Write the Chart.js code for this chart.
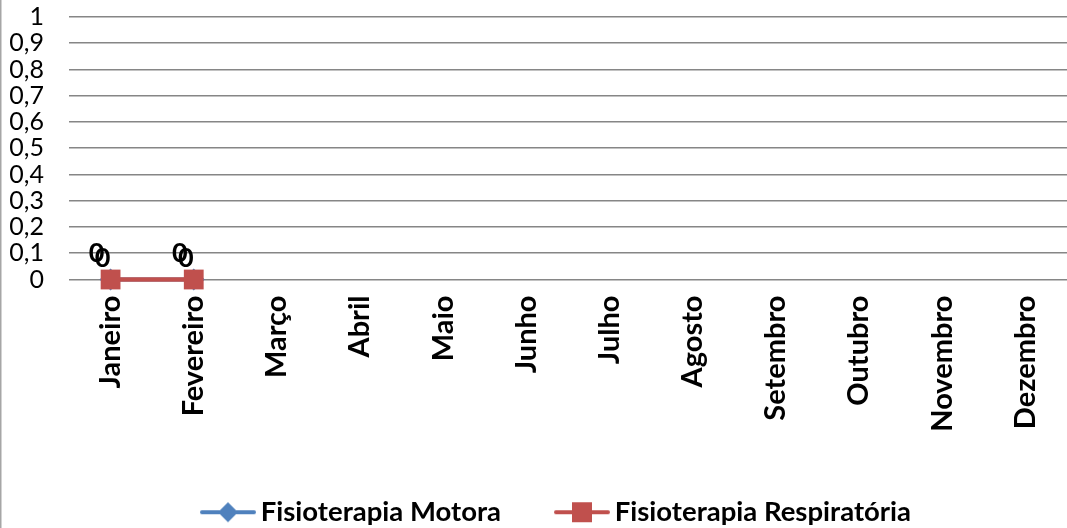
<!DOCTYPE html>
<html>
<head>
<meta charset="utf-8">
<script src="https://cdn.jsdelivr.net/npm/chart.js@4.4.1/dist/chart.umd.min.js"></script>
<style>
html,body{margin:0;padding:0;background:#fff;overflow:hidden;}
#wrap{width:1067px;height:528px;position:relative;overflow:hidden;}
canvas{display:block;}
</style>
</head>
<body>
<div id="wrap"><canvas id="c" width="1067" height="528"></canvas></div>
<script>
const categories = ['Janeiro','Fevereiro','Março','Abril','Maio','Junho','Julho','Agosto','Setembro','Outubro','Novembro','Dezembro'];
const motora = [0, 0, null, null, null, null, null, null, null, null, null, null];
const respiratoria = [0, 0, null, null, null, null, null, null, null, null, null, null];
const yTickLabels = ['0','0,1','0,2','0,3','0,4','0,5','0,6','0,7','0,8','0,9','1'];
const seriesNames = ['Fisioterapia Motora','Fisioterapia Respiratória'];

const BLUE = '#4F81BD', RED = '#C0504D';
const FONT = 'Lato, "Open Sans", sans-serif';

function legendIcon(color, shape){
  const c = document.createElement('canvas');
  c.width = 70; c.height = 24;
  const g = c.getContext('2d');
  g.strokeStyle = color; g.lineWidth = 4; g.lineCap = 'round';
  g.beginPath(); g.moveTo(15,12); g.lineTo(67,12); g.stroke();
  g.fillStyle = color;
  if (shape === 'diamond'){
    g.beginPath(); g.moveTo(41,2); g.lineTo(51,12); g.lineTo(41,22); g.lineTo(31,12); g.closePath(); g.fill();
  } else {
    g.fillRect(31,2,20,20);
  }
  return c;
}
const icons = [legendIcon(BLUE,'diamond'), legendIcon(RED,'square')];

const labelOffsets = [[-14,-26],[-8,-21]];
const dataLabels = {
  id:'dataLabels',
  afterDatasetsDraw(chart){
    const ctx = chart.ctx;
    ctx.save();
    ctx.font = 'bold 27px ' + FONT;
    ctx.fillStyle = '#000';
    ctx.textAlign = 'center'; ctx.textBaseline = 'middle';
    chart.data.datasets.forEach((ds, di) => {
      const meta = chart.getDatasetMeta(di);
      meta.data.forEach((pt, i) => {
        const v = ds.data[i];
        if (v === null || v === undefined) return;
        ctx.fillText(String(v).replace('.',','), pt.x + labelOffsets[di][0], pt.y + labelOffsets[di][1]);
      });
    });
    ctx.restore();
  }
};
const frame = {
  id:'frame',
  afterLayout(chart){
    if (chart.legend){ chart.legend.left -= 14; chart.legend.right -= 14; }
  },
  afterDraw(chart){
    const ctx = chart.ctx;
    ctx.save();
    ctx.fillStyle = '#a6a6a6';
    ctx.fillRect(0,0,1.5,chart.height);
    ctx.restore();
  }
};

new Chart(document.getElementById('c'), {
  type:'line',
  data:{
    labels:categories,
    datasets:[
      {label:seriesNames[0], data:motora, borderColor:BLUE, backgroundColor:BLUE, borderWidth:4, order:1, clip:false,
       pointStyle:'rectRot', pointRadius:11, pointBorderWidth:0, spanGaps:false},
      {label:seriesNames[1], data:respiratoria, borderColor:RED, backgroundColor:RED, borderWidth:4.5, order:0, clip:false,
       pointStyle:'rect', pointRadius:14, pointBorderWidth:0, spanGaps:false}
    ]
  },
  options:{
    responsive:false, animation:false,
    layout:{autoPadding:false, padding:{left:0,right:0,top:17,bottom:-8}},
    plugins:{
      tooltip:{enabled:false},
      legend:{
        position:'bottom', fullSize:false,
        labels:{
          usePointStyle:true, pointStyleWidth:50,
          generateLabels(chart){
            return chart.data.datasets.map((ds,i)=>({text:ds.label, pointStyle:icons[i], datasetIndex:i, fontColor:'#000', lineWidth:0, hidden:false}));
          },
          color:'#000', font:{family:FONT, size:27.5, weight:'bold'}, padding:50
        }
      }
    },
    scales:{
      x:{
        offset:true,
        grid:{display:false, drawTicks:false},
        border:{display:false},
        ticks:{color:'#000', font:{family:FONT, size:29, weight:'bold'}, maxRotation:90, minRotation:90, padding:16, autoSkip:false},
        afterFit(s){ s.height = 169; s.paddingLeft = 0; s.paddingRight = 0; }
      },
      y:{
        min:0, max:1,
        grid:{color:'#868686', lineWidth:1.6, drawTicks:false},
        border:{display:false},
        ticks:{stepSize:0.1, autoSkip:false, color:'#000', font:{family:FONT, size:25}, padding:25,
               callback:(v,i)=>yTickLabels[i]},
        afterFit(s){ s.width = 69; s.paddingTop = 0; s.paddingBottom = 0; }
      }
    }
  },
  plugins:[dataLabels, frame]
});
</script>
</body>
</html>
